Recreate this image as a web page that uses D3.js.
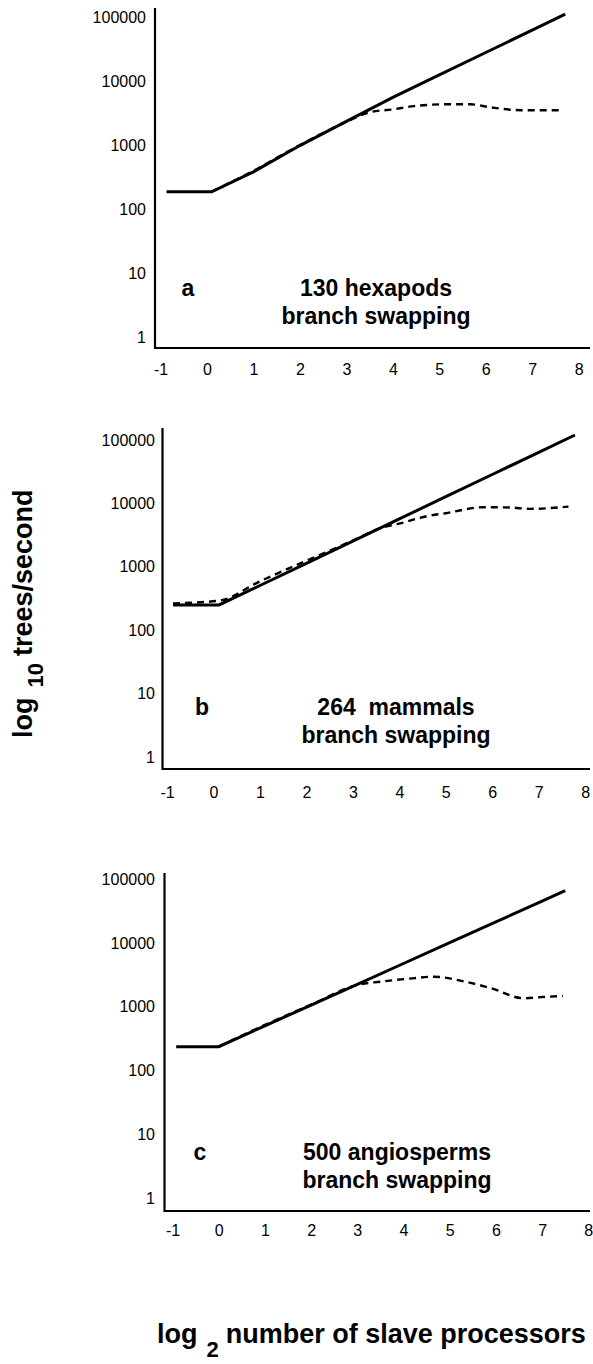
<!DOCTYPE html>
<html lang="en">
<head>
	<meta charset="UTF-8">
	<title>trees per second vs slave processors</title>
	<script src="https://cdn.jsdelivr.net/npm/d3@7/dist/d3.min.js"></script>
	<style>
		body{
			margin: 0px;
			background: #fff;
		}
		svg{
			display: block;
			font-family: "Liberation Sans", Arial, sans-serif;
		}
	</style>
</head>
<body>
	<svg></svg>
	<script>
		// tick labels
		var xTicks = [-1, 0, 1, 2, 3, 4, 5, 6, 7, 8];
		var yTicks = [1, 10, 100, 1000, 10000, 100000];

		// panel labels
		var panelLetters = ["a", "b", "c"];
		var panelTitles = [
			["130 hexapods", "branch swapping"],
			["264  mammals", "branch swapping"],
			["500 angiosperms", "branch swapping"]
		];

		// a: 130 hexapods (solid = ideal, dashed = observed)
		var hexSolidX = [-0.87, 0.1, 1, 2, 3, 4, 5, 6, 7, 7.71];
		var hexSolidY = [186, 186, 380, 980, 2340, 5560, 12450, 27900, 62400, 111000];
		var hexDashX = [0.1, 1, 2, 3, 3.5, 4, 4.45, 5.17, 5.67, 6.1, 6.75, 7.61];
		var hexDashY = [186, 395, 1000, 2300, 3250, 3600, 4050, 4330, 4330, 3880, 3500, 3500];

		// b: 264 mammals
		var mamSolidX = [-0.87, 0.12, 1, 2, 3, 4, 5, 6, 7, 7.78];
		var mamSolidY = [250, 250, 507, 1135, 2540, 5690, 12760, 28560, 64000, 120000];
		var mamDashX = [-0.87, 0.12, 1, 2, 3, 3.6, 4, 4.6, 5, 5.8, 6.4, 6.8, 7.64];
		var mamDashY = [265, 292, 590, 1250, 2600, 4100, 4800, 6300, 7000, 8700, 8600, 8200, 8900];

		// c: 500 angiosperms
		var angSolidX = [-0.92, 0, 1, 2, 3, 4, 5, 6, 7, 7.5];
		var angSolidY = [238, 238, 505, 1063, 2250, 4760, 10070, 21300, 45100, 65600];
		var angDashX = [0, 1, 2, 3, 3.5, 4.2, 4.65, 5.3, 5.9, 6.6, 7, 7.45];
		var angDashY = [238, 520, 1080, 2200, 2470, 2790, 2960, 2500, 1950, 1360, 1420, 1480];

		window.onload = () => {
			var w = 593,
				h = 1364,
				svg = d3.select("svg").attr("width", w).attr("height", h);

			var zip = (xs, ys) => xs.map((x, i) => [x, ys[i]]);

			// layout of the three stacked panels
			var panels = [
				{solid: zip(hexSolidX, hexSolidY), dash: zip(hexDashX, hexDashY),
					xr: [160.5, 578.7], yr: [337, 17], axX: 155, axTop: 8, axY: 348, xLab: 370, yLab: 146,
					letter: [188, 288], title: [376, 288]},
				{solid: zip(mamSolidX, mamSolidY), dash: zip(mamDashX, mamDashY),
					xr: [167, 585.2], yr: [757, 440], axX: 162.5, axTop: 428, axY: 769, xLab: 793, yLab: 155,
					letter: [202, 707], title: [396, 707]},
				{solid: zip(angSolidX, angSolidY), dash: zip(angDashX, angDashY),
					xr: [172.5, 588.3], yr: [1198.5, 879], axX: 164.5, axTop: 873, axY: 1211, xLab: 1231, yLab: 155,
					letter: [200, 1152], title: [397, 1152]}
			];

			panels.forEach((p, i) => {
				var x = d3.scaleLinear().domain([-1, 8]).range(p.xr),
					y = d3.scaleLog().domain([1, 100000]).range(p.yr);

				var g = svg.append("g");

				// axis lines
				g.append("path")
					.attr("d", d3.line()([[p.axX, p.axTop], [p.axX, p.axY], [590, p.axY]]))
					.attr("fill", "none")
					.attr("stroke", "#000")
					.attr("stroke-width", 2.2);

				// tick labels through d3 axes, no tick marks
				var xa = g.append("g")
					.attr("transform", "translate(0," + p.axY + ")")
					.call(d3.axisBottom(x).tickValues(xTicks).tickSize(0).tickPadding(p.xLab - p.axY - 6)
						.tickFormat(d => String(d)));
				var ya = g.append("g")
					.attr("transform", "translate(" + p.yLab + ",0)")
					.call(d3.axisLeft(y).tickValues(yTicks).tickSize(0).tickPadding(0)
						.tickFormat(d3.format("d")));
				[xa, ya].forEach(a => {
					a.select(".domain").remove();
					a.selectAll("text")
						.attr("fill", "#000")
						.style("font-size", "16px")
						.style("font-family", "'Liberation Sans', Arial, sans-serif");
				});

				// lines
				g.append("path")
					.datum(p.solid)
					.attr("d", d3.line().x(d => x(d[0])).y(d => y(d[1])))
					.attr("fill", "none")
					.attr("stroke", "#000")
					.attr("stroke-width", 3);

				g.append("path")
					.datum(p.dash)
					.attr("d", d3.line().curve(d3.curveMonotoneX).x(d => x(d[0])).y(d => y(d[1])))
					.attr("fill", "none")
					.attr("stroke", "#000")
					.attr("stroke-width", 2.4)
					.attr("stroke-dasharray", "7,5");

				// letter + title
				g.append("text")
					.attr("x", p.letter[0])
					.attr("y", p.letter[1] + 8)
					.attr("text-anchor", "middle")
					.style("font-size", "23px")
					.style("font-weight", "bold")
					.text(panelLetters[i]);

				g.selectAll(".title")
					.data(panelTitles[i])
					.enter().append("text")
					.attr("x", p.title[0])
					.attr("y", (d, k) => p.title[1] + 8 + k * 28)
					.attr("text-anchor", "middle")
					.style("font-size", "23px")
					.style("font-weight", "bold")
					.style("white-space", "pre")
					.text(d => d);
			});

			// y axis title
			var yt = svg.append("text")
				.attr("transform", "translate(32,738) rotate(-90)")
				.style("font-weight", "bold")
				.style("font-size", "27px");
			yt.append("tspan").text("log");
			yt.append("tspan").attr("dx", 10).attr("dy", 11).style("font-size", "22px").text("10");
			yt.append("tspan").attr("dx", 7).attr("dy", -11).text("trees/second");

			// x axis title
			var xt = svg.append("text")
				.attr("x", 157)
				.attr("y", 1343)
				.style("font-weight", "bold")
				.style("font-size", "27px");
			xt.append("tspan").text("log");
			xt.append("tspan").attr("dx", 9).attr("dy", 14).style("font-size", "22px").text("2");
			xt.append("tspan").attr("dx", 7).attr("dy", -14).text("number of slave processors");
		}
	</script>
</body>
</html>
